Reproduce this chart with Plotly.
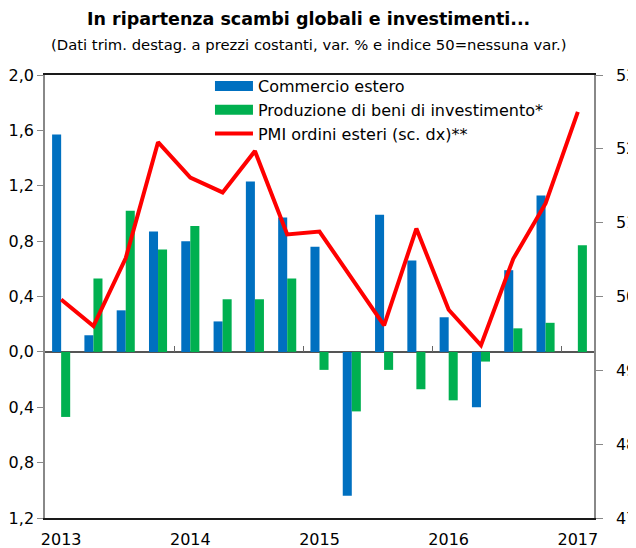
import plotly.graph_objects as go

quarters = [
    "2013Q1", "2013Q2", "2013Q3", "2013Q4",
    "2014Q1", "2014Q2", "2014Q3", "2014Q4",
    "2015Q1", "2015Q2", "2015Q3", "2015Q4",
    "2016Q1", "2016Q2", "2016Q3", "2016Q4",
    "2017Q1",
]
commercio_estero = [1.57, 0.12, 0.30, 0.87, 0.80, 0.22, 1.23, 0.97, 0.76, -1.04,
                    0.99, 0.66, 0.25, -0.40, 0.59, 1.13, None]
produzione_beni_inv = [-0.47, 0.53, 1.02, 0.74, 0.91, 0.38, 0.38, 0.53, -0.13, -0.43,
                       -0.13, -0.27, -0.35, -0.07, 0.17, 0.21, 0.77]
pmi_ordini_esteri = [49.96, 49.60, 50.52, 52.09, 51.61, 51.41, 51.97, 50.84, 50.88, 50.25,
                     49.61, 50.92, 49.82, 49.34, 50.51, 51.26, 52.50]
year_labels = ["2013", "2014", "2015", "2016", "2017"]

names = ["Commercio estero", "Produzione di beni di investimento*", "PMI ordini esteri (sc. dx)**"]
BLUE = "#0070C0"
GREEN = "#00B050"
RED = "#FF0000"
FONT = "DejaVu Sans"

x = list(range(len(quarters)))
year_pos = [i for i, q in enumerate(quarters) if q.endswith("Q1")]
year_bounds = [p - 0.5 for p in year_pos]

fig = go.Figure()
fig.add_trace(go.Bar(x=x, y=commercio_estero, marker=dict(color=BLUE, line=dict(width=0)),
                     name=names[0], showlegend=False))
fig.add_trace(go.Bar(x=x, y=produzione_beni_inv, marker=dict(color=GREEN, line=dict(width=0)),
                     name=names[1], showlegend=False))
# legend-only entries for wide rectangular swatches
fig.add_trace(go.Scatter(x=[None], y=[None], mode="lines", line=dict(color=BLUE, width=12),
                         name=names[0]))
fig.add_trace(go.Scatter(x=[None], y=[None], mode="lines", line=dict(color=GREEN, width=12),
                         name=names[1]))
fig.add_trace(go.Scatter(x=x, y=pmi_ordini_esteri, mode="lines", yaxis="y2",
                         line=dict(color=RED, width=4), name=names[2]))
# invisible trace to activate the zero-line tick axis
fig.add_trace(go.Scatter(x=[None], y=[None], xaxis="x2", showlegend=False, hoverinfo="skip"))

fig.update_layout(
    width=628, height=540,
    margin=dict(l=37, r=42, t=67, b=30),
    paper_bgcolor="white", plot_bgcolor="white",
    separators=",.",
    font=dict(family=FONT, size=16, color="black"),
    barmode="group", bargap=0.44, bargroupgap=0,
    showlegend=True,
    legend=dict(x=0.3005, y=1.0135, xanchor="left", yanchor="top", bgcolor="rgba(0,0,0,0)",
                font=dict(family=FONT, size=16, color="black"), itemwidth=38,
                tracegroupgap=0),
    xaxis=dict(range=[-0.5, len(quarters) - 0.5], tickvals=year_pos, ticktext=year_labels,
               ticks="", showline=True, linecolor="#1a1a1a", linewidth=1.5, mirror=True,
               showgrid=False, zeroline=False, ticklabelstandoff=6, automargin=False,
               tickfont=dict(family=FONT, size=16, color="black")),
    xaxis2=dict(range=[-0.5, len(quarters) - 0.5], overlaying="x", anchor="free",
                position=0.375, side="bottom", tickvals=year_bounds, ticks="inside",
                ticklen=6, tickcolor="#666666", tickwidth=1, showticklabels=False,
                showline=False, showgrid=False, zeroline=False, automargin=False),
    yaxis=dict(range=[-1.2, 2.0], dtick=0.4, tick0=0, tickformat=".1f", showgrid=False,
               zeroline=True, zerolinecolor="#555555", zerolinewidth=1.5,
               showline=True, linecolor="#888888", linewidth=1.5, ticks="outside",
               ticklen=6, tickcolor="#888888", ticklabelstandoff=0, automargin=False,
               tickfont=dict(family=FONT, size=16, color="black")),
    yaxis2=dict(range=[47, 53], dtick=1, overlaying="y", side="right", showgrid=False,
                zeroline=False, showline=True, linecolor="#888888", linewidth=1.5,
                ticks="outside", ticklen=7, tickcolor="#888888", ticklabelstandoff=10,
                automargin=False,
                tickfont=dict(family=FONT, size=16, color="black")),
    annotations=[
        dict(text="<b>In ripartenza scambi globali e investimenti...</b>", xref="paper",
             yref="paper", x=0.48, y=1.126, xanchor="center", yanchor="middle",
             showarrow=False, font=dict(family=FONT, size=17.5, color="black")),
        dict(text="(Dati trim. destag. a prezzi costanti, var. % e indice 50=nessuna var.)",
             xref="paper", yref="paper", x=0.48, y=1.068, xanchor="center",
             yanchor="middle", showarrow=False, font=dict(family=FONT, size=14.8, color="black")),
    ],
)

fig.write_html("out.html")
